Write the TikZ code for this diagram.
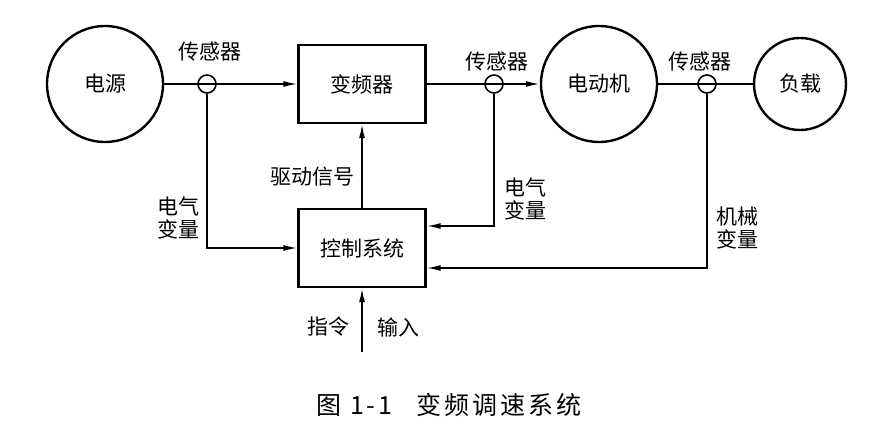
\documentclass[tikz,border=0pt]{standalone}
\usepackage{fontspec}
\setmainfont{Noto Sans CJK SC}
\usetikzlibrary{arrows.meta,positioning}

\begin{document}
\begin{tikzpicture}[x=1pt,y=-1pt,
    every node/.style={font=\fontsize{21}{23}\selectfont},
    machine/.style={draw,circle,line width=2.4pt,inner sep=0pt},
    sensor/.style={draw,circle,line width=1.6pt,minimum size=18pt,inner sep=0pt},
    block/.style={draw,rectangle,line width=2.4pt,minimum width=127pt,minimum height=78pt},
    sig/.style={line width=1.6pt,-{Latex[length=14pt,width=6pt]}},
    wire/.style={line width=1.6pt},
    note/.style={align=center,inner sep=0pt}]
    \useasboundingbox (0,0) rectangle (896,430);
    \def\yrow{84}

    % Main power path
    \node[machine,minimum size=116pt] (src) at (105,\yrow) {电源};
    \node[sensor] (s1) at (207,\yrow) {};
    \node[block] (inv) at (362,\yrow) {变频器};
    \node[sensor] (s2) at (494,\yrow) {};
    \node[machine,minimum size=116pt] (mot) at (599,\yrow) {电动机};
    \node[sensor] (s3) at (707,\yrow) {};
    \node[machine,minimum size=92pt] (load) at (800,\yrow) {负载};

    % Controller
    \node[block] (ctl) at (362,248) {控制系统};
    \coordinate (cmd) at (362,352);

    \draw[sig] (src) -- (inv);
    \draw[sig] (inv) -- (mot);
    \draw[wire] (mot) -- (load);

    % Feedback and control signals
    \draw[sig] (s1.south) |- (ctl.west);
    \draw[sig] (s2.south) |- ([yshift=22pt]ctl.east);
    \draw[sig] (s3.south) |- ([yshift=-20pt]ctl.east);
    \draw[sig] (ctl) -- (inv);
    \draw[sig] (cmd) -- (ctl);

    % Labels
    \node (l1) at (210,52) {传感器};
    \node (l2) at (497,62) {传感器};
    \node (l3) at (700,62) {传感器};
    \node (drv) at (312,177) {驱动信号};
    \node[note] (ev1) at (178,218) {电气\\变量};
    \node[note] (ev2) at (525,199) {电气\\变量};
    \node[note] (mv) at (737,228) {机械\\变量};
    \node (cmdl) at (328,327) {指令};
    \node (inl) at (398,327) {输入};

    \node[font=\fontsize{25}{27}\selectfont\addfontfeature{LetterSpace=12}] (cap) at (449,405)
        {图 1-1\hspace{24pt}变频调速系统};
\end{tikzpicture}
\end{document}
